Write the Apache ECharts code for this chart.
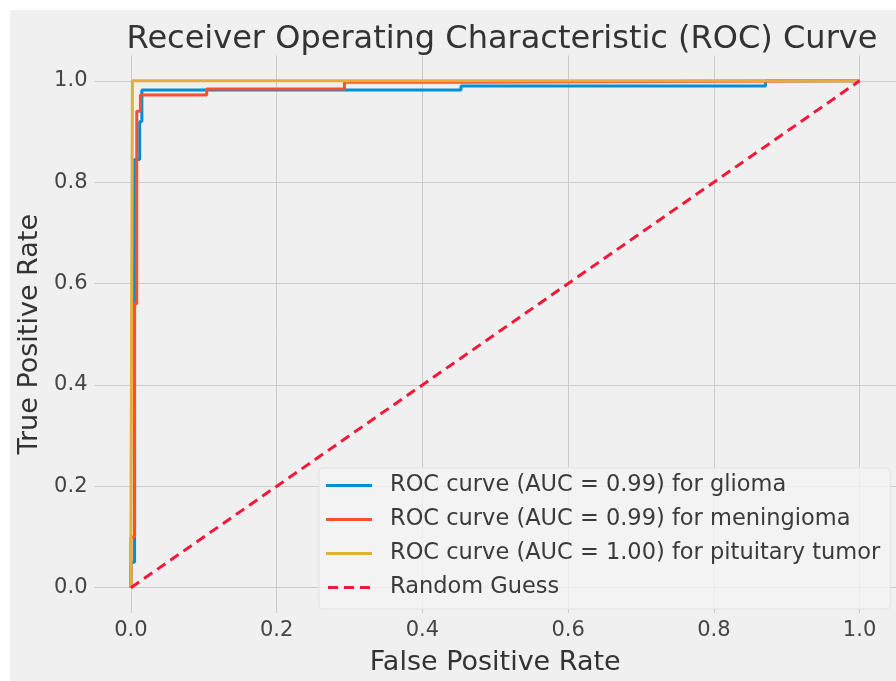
<!DOCTYPE html>
<html>
<head>
<meta charset="utf-8">
<script src="https://cdn.jsdelivr.net/npm/echarts@6/dist/echarts.min.js"></script>
<style>
html,body{margin:0;padding:0;background:#fff;}
#c{width:896px;height:681px;}
</style>
</head>
<body>
<div id="c"></div>
<script>
// ---- data ----
var tickValues = [0, 0.2, 0.4, 0.6, 0.8, 1.0];
var seriesNames = [
  'ROC curve (AUC = 0.99) for glioma',
  'ROC curve (AUC = 0.99) for meningioma',
  'ROC curve (AUC = 1.00) for pituitary tumor',
  'Random Guess'
];
var gliomaROC = [
  [0, 0], [0, 0.05], [0.005, 0.05], [0.005, 0.845], [0.012, 0.845],
  [0.012, 0.92], [0.015, 0.92], [0.015, 0.982], [0.453, 0.982],
  [0.453, 0.99], [0.871, 0.99], [0.871, 1.0], [1, 1]
];
var meningiomaROC = [
  [0, 0], [0, 0.1], [0.005, 0.1], [0.005, 0.56], [0.008, 0.56],
  [0.008, 0.94], [0.013, 0.94], [0.013, 0.972], [0.104, 0.972],
  [0.104, 0.984], [0.293, 0.984], [0.293, 0.997], [0.455, 0.997],
  [0.455, 1.0], [1, 1]
];
var pituitaryROC = [
  [0, 0], [0, 0.1], [0.002, 0.1], [0.002, 1.0], [1, 1]
];
var randomGuess = [[0, 0], [1, 1]];

var colors = ['#008fd5', '#fc4f30', '#e5ae38', '#f2183a'];

var chart = echarts.init(document.getElementById('c'), null, {renderer: 'canvas'});

function axisCommon(name) {
  return {
    type: 'value',
    min: -0.05,
    max: 1.05,
    name: name,
    nameLocation: 'middle',
    nameTextStyle: {fontFamily: 'DejaVu Sans', fontSize: 27, color: '#333', lineHeight: 27},
    axisLine: {show: false},
    axisTick: {show: false, customValues: tickValues},
    axisLabel: {
      customValues: tickValues,
      fontFamily: 'DejaVu Sans', fontSize: 21, color: '#444', margin: 7,
      formatter: function (v) { return v.toFixed(1); }
    },
    splitLine: {show: true, lineStyle: {color: '#cbcbcb', width: 1}}
  };
}

var xAx = axisCommon('False Positive Rate');
xAx.nameGap = 36;
var yAx = axisCommon('True Positive Rate');
yAx.nameGap = 51;

var solidIcon = 'path://M0,0H46V3H0Z';
var dashIcon = 'path://M0,0H10V3H0Z M16,0H26V3H16Z M32,0H42V3H32Z';

var series = [gliomaROC, meningiomaROC, pituitaryROC].map(function (d, i) {
  return {
    name: seriesNames[i], type: 'line', data: d, showSymbol: false, symbol: 'none',
    lineStyle: {color: colors[i], width: 3}, itemStyle: {color: colors[i]},
    animation: false, z: 2 + i
  };
});
series.push({
  name: seriesNames[3], type: 'line', data: randomGuess, showSymbol: false, symbol: 'none',
  lineStyle: {color: colors[3], width: 3, type: [10, 6]}, itemStyle: {color: colors[3]},
  animation: false, z: 6
});

chart.setOption({
  backgroundColor: '#ffffff',
  animation: false,
  graphic: [{
    type: 'rect', z: -100, silent: true,
    shape: {x: 10, y: 10, width: 886, height: 671},
    style: {fill: '#f0f0f0'}
  }],
  title: {
    text: 'Receiver Operating Characteristic (ROC) Curve',
    left: 497, top: 18, textAlign: 'center',
    textStyle: {fontFamily: 'DejaVu Sans', fontSize: 32, fontWeight: 'normal', color: '#333', lineHeight: 34}
  },
  grid: {left: 94.5, top: 55.5, width: 803, height: 560, containLabel: false},
  xAxis: xAx,
  yAxis: yAx,
  legend: {
    orient: 'vertical', left: 319, top: 468,
    padding: [6, 10, 10, 7],
    itemWidth: 46, itemHeight: 3, itemGap: 11,
    backgroundColor: 'rgba(243,243,243,0.82)',
    borderColor: '#e2e2e2', borderWidth: 1, borderRadius: 4,
    textStyle: {fontFamily: 'DejaVu Sans', fontSize: 22.5, color: '#3a3a3a', lineHeight: 22, padding: [0, 0, 0, 13]},
    data: seriesNames.map(function (n, i) {
      return {name: n, icon: i === 3 ? dashIcon : solidIcon};
    })
  },
  series: series
});
</script>
</body>
</html>
